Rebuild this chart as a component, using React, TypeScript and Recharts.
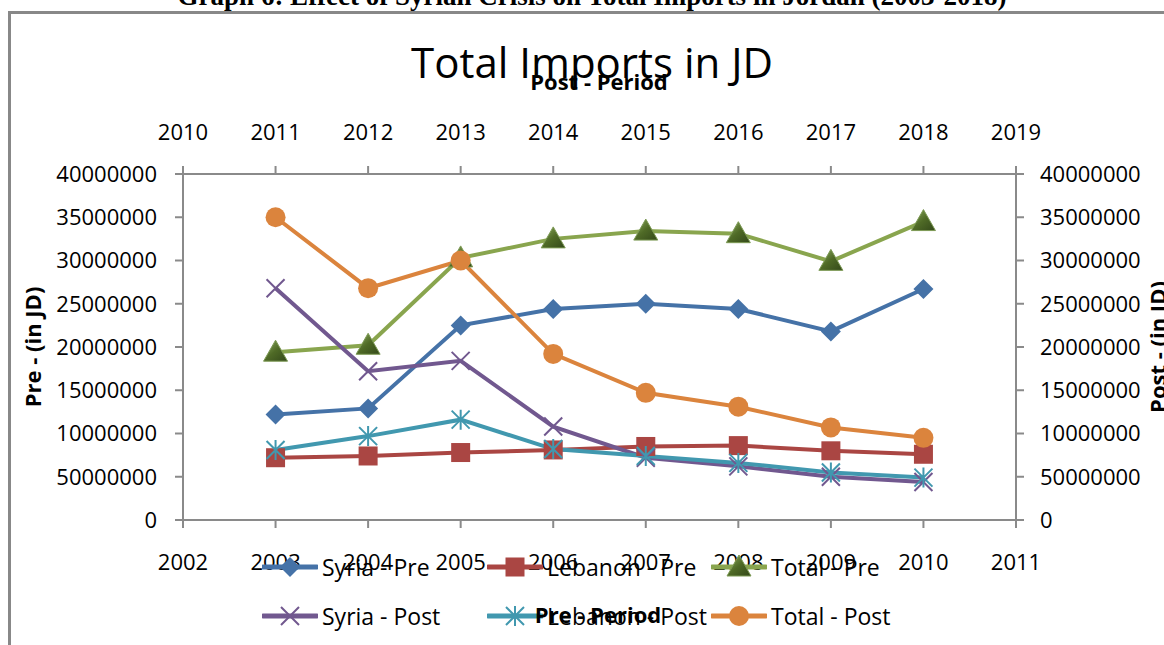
import React from "react";
import { LineChart, Line, XAxis, YAxis } from "recharts";

const preYears = [2003, 2004, 2005, 2006, 2007, 2008, 2009, 2010];
const postYears = [2011, 2012, 2013, 2014, 2015, 2016, 2017, 2018];

const syriaPre = [12200000, 12900000, 22500000, 24400000, 25000000, 24400000, 21800000, 26700000];
const lebanonPre = [7200000, 7400000, 7800000, 8100000, 8500000, 8600000, 8000000, 7600000];
const totalPre = [19400000, 20200000, 30300000, 32500000, 33400000, 33100000, 29900000, 34500000];
const syriaPost = [26800000, 17200000, 18400000, 10800000, 7200000, 6200000, 5000000, 4400000];
const lebanonPost = [8100000, 9700000, 11600000, 8200000, 7400000, 6600000, 5500000, 4900000];
const totalPost = [35000000, 26800000, 30000000, 19200000, 14700000, 13100000, 10700000, 9500000];

const preTicks = [2002, 2003, 2004, 2005, 2006, 2007, 2008, 2009, 2010, 2011];
const postTicks = [2010, 2011, 2012, 2013, 2014, 2015, 2016, 2017, 2018, 2019];
const yTickValues = [0, 5000000, 10000000, 15000000, 20000000, 25000000, 30000000, 35000000, 40000000];
const yTickLabels = ["0", "50000000", "10000000", "15000000", "20000000", "25000000", "30000000", "35000000", "40000000"];

const seriesNames = ["Syria - Pre", "Lebanon - Pre", "Total - Pre", "Syria - Post", "Lebanon - Post", "Total - Post"];

const data = preYears.map((y, i) => ({
  preYear: y,
  postYear: postYears[i],
  syriaPre: syriaPre[i],
  lebanonPre: lebanonPre[i],
  totalPre: totalPre[i],
  syriaPost: syriaPost[i],
  lebanonPost: lebanonPost[i],
  totalPost: totalPost[i],
}));

const C_BLUE = "#4572A7";
const C_RED = "#AA4643";
const C_GREEN = "#89A54E";
const C_PURPLE = "#71588F";
const C_CYAN = "#4198AF";
const C_ORANGE = "#DB843D";
const AXIS = "#8a8a8a";
const FONT = "'Open Sans', 'Noto Sans', sans-serif";

type MP = { cx: number; cy: number };

const Diamond = ({ cx, cy }: MP) => (
  <path d={`M${cx},${cy - 10}L${cx + 10},${cy}L${cx},${cy + 10}L${cx - 10},${cy}Z`} fill={C_BLUE} />
);
const Square = ({ cx, cy }: MP) => <rect x={cx - 9.5} y={cy - 9.5} width={19} height={19} fill={C_RED} />;
const Triangle = ({ cx, cy }: MP) => (
  <path d={`M${cx},${cy - 12}L${cx + 12},${cy + 9}L${cx - 12},${cy + 9}Z`} fill="url(#triGrad)" stroke="#7d9a55" strokeWidth={1} />
);
const Cross = ({ cx, cy }: MP) => (
  <path d={`M${cx - 9},${cy - 9}L${cx + 9},${cy + 9}M${cx + 9},${cy - 9}L${cx - 9},${cy + 9}`} stroke={C_PURPLE} strokeWidth={2} fill="none" />
);
const Star = ({ cx, cy }: MP) => (
  <path
    d={`M${cx - 9},${cy - 9}L${cx + 9},${cy + 9}M${cx + 9},${cy - 9}L${cx - 9},${cy + 9}M${cx},${cy - 10}L${cx},${cy + 10}`}
    stroke={C_CYAN}
    strokeWidth={2}
    fill="none"
  />
);
const Circle = ({ cx, cy }: MP) => <circle cx={cx} cy={cy} r={10} fill={C_ORANGE} />;

const markers = [Diamond, Square, Triangle, Cross, Star, Circle];
const colors = [C_BLUE, C_RED, C_GREEN, C_PURPLE, C_CYAN, C_ORANGE];
const keys = ["syriaPre", "lebanonPre", "totalPre", "syriaPost", "lebanonPost", "totalPost"];

const mkDot = (M: any) => (p: any) => {
  if (p.cx == null || p.cy == null) return <g key={p.index} />;
  return <M key={p.index} cx={p.cx} cy={p.cy} />;
};

const legendPos = [
  { x: 262, y: 567 },
  { x: 487, y: 567 },
  { x: 711, y: 567 },
  { x: 262, y: 616 },
  { x: 487, y: 616 },
  { x: 711, y: 616 },
];

const TriDefs = () => (
  <defs>
    <linearGradient id="triGrad" x1="0" y1="0" x2="1" y2="1">
      <stop offset="0%" stopColor="#8fae62" />
      <stop offset="50%" stopColor="#4f6a26" />
      <stop offset="100%" stopColor="#33481a" />
    </linearGradient>
  </defs>
);

export default function App() {
  const tickStyle = { fontSize: 22, fontFamily: FONT, fill: "#000" };
  return (
    <div style={{ position: "absolute", left: 0, top: 0, width: 1164, height: 645, overflow: "hidden", background: "#fff" }}>
      <div
        style={{
          position: "absolute",
          left: 0,
          width: 1184,
          top: -17,
          textAlign: "center",
          fontFamily: "'Liberation Serif', 'Times New Roman', serif",
          fontWeight: "bold",
          fontSize: 27,
          lineHeight: "27px",
          whiteSpace: "nowrap",
        }}
      >
        Graph 6: Effect of Syrian Crisis on Total Imports in Jordan (2003-2018)
      </div>
      <div
        style={{
          position: "absolute",
          left: 8,
          top: 11,
          width: 1200,
          height: 700,
          border: "3px solid #888888",
        }}
      />
      <div style={{ position: "absolute", left: 0, top: 0 }}>
        <LineChart width={1164} height={645} data={data} margin={{ top: 134, right: 8, bottom: 85, left: 53 }}>
          <TriDefs />
          <XAxis
            xAxisId="pre"
            dataKey="preYear"
            type="number"
            domain={[2002, 2011]}
            ticks={preTicks}
            interval={0}
            orientation="bottom"
            height={40}
            tickSize={8}
            tickMargin={26}
            axisLine={{ stroke: AXIS, strokeWidth: 2 }}
            tickLine={{ stroke: AXIS, strokeWidth: 2 }}
            tick={tickStyle}
          />
          <XAxis
            xAxisId="post"
            dataKey="postYear"
            type="number"
            domain={[2010, 2019]}
            ticks={postTicks}
            interval={0}
            orientation="top"
            height={40}
            tickSize={8}
            tickMargin={26}
            axisLine={{ stroke: AXIS, strokeWidth: 2 }}
            tickLine={{ stroke: AXIS, strokeWidth: 2 }}
            tick={tickStyle}
          />
          <YAxis
            yAxisId="pre"
            orientation="left"
            domain={[0, 40000000]}
            ticks={yTickValues}
            interval={0}
            width={130}
            tickSize={8}
            tickMargin={18}
            tickFormatter={(v: number) => yTickLabels[yTickValues.indexOf(v)]}
            axisLine={{ stroke: AXIS, strokeWidth: 2 }}
            tickLine={{ stroke: AXIS, strokeWidth: 2 }}
            tick={tickStyle}
          />
          <YAxis
            yAxisId="post"
            orientation="right"
            domain={[0, 40000000]}
            ticks={yTickValues}
            interval={0}
            width={140}
            tickSize={8}
            tickMargin={16}
            tickFormatter={(v: number) => yTickLabels[yTickValues.indexOf(v)]}
            axisLine={{ stroke: AXIS, strokeWidth: 2 }}
            tickLine={{ stroke: AXIS, strokeWidth: 2 }}
            tick={tickStyle}
          />
          {keys.map((k, i) => {
            const isPre = i < 3;
            return (
              <Line
                key={k}
                dataKey={k}
                name={seriesNames[i]}
                xAxisId={isPre ? "pre" : "post"}
                yAxisId={isPre ? "pre" : "post"}
                stroke={colors[i]}
                strokeWidth={4}
                type="linear"
                dot={mkDot(markers[i])}
                activeDot={false}
                isAnimationActive={false}
              />
            );
          })}
        </LineChart>
      </div>
      <div
        style={{
          position: "absolute",
          left: 0,
          width: 1184,
          top: 38,
          textAlign: "center",
          fontFamily: FONT,
          fontSize: 42,
          lineHeight: "48px",
          whiteSpace: "nowrap",
        }}
      >
        Total Imports in JD
      </div>
      <div
        style={{
          position: "absolute",
          left: 0,
          width: 1198,
          top: 67,
          textAlign: "center",
          fontFamily: FONT,
          fontWeight: "bold",
          fontSize: 22,
          lineHeight: "28px",
          whiteSpace: "nowrap",
        }}
      >
        Post - Period
      </div>
      <div
        style={{
          position: "absolute",
          left: 32,
          top: 347,
          transform: "translate(-50%, -50%) rotate(-90deg)",
          fontFamily: FONT,
          fontWeight: "bold",
          fontSize: 22,
          whiteSpace: "nowrap",
        }}
      >
        Pre - (in JD)
      </div>
      <div
        style={{
          position: "absolute",
          left: 1157,
          top: 347,
          transform: "translate(-50%, -50%) rotate(-90deg)",
          fontFamily: FONT,
          fontWeight: "bold",
          fontSize: 22,
          whiteSpace: "nowrap",
        }}
      >
        Post - (in JD)
      </div>
      {seriesNames.map((n, i) => {
        const M = markers[i];
        const p = legendPos[i];
        return (
          <div key={n} style={{ position: "absolute", left: p.x, top: p.y - 15, height: 30, display: "flex", alignItems: "center" }}>
            <svg width={56} height={30} style={{ display: "block" }}>
              <TriDefs />
              <line x1={1} y1={15} x2={55} y2={15} stroke={colors[i]} strokeWidth={5} strokeLinecap="round" />
              <M cx={28} cy={15} />
            </svg>
            <span style={{ fontFamily: FONT, fontSize: 23, marginLeft: 4, whiteSpace: "nowrap" }}>{n}</span>
          </div>
        );
      })}
      <div
        style={{
          position: "absolute",
          left: 0,
          width: 1196,
          top: 599,
          textAlign: "center",
          fontFamily: FONT,
          fontWeight: "bold",
          fontSize: 22,
          lineHeight: "30px",
          whiteSpace: "nowrap",
        }}
      >
        Pre - Period
      </div>
    </div>
  );
}
